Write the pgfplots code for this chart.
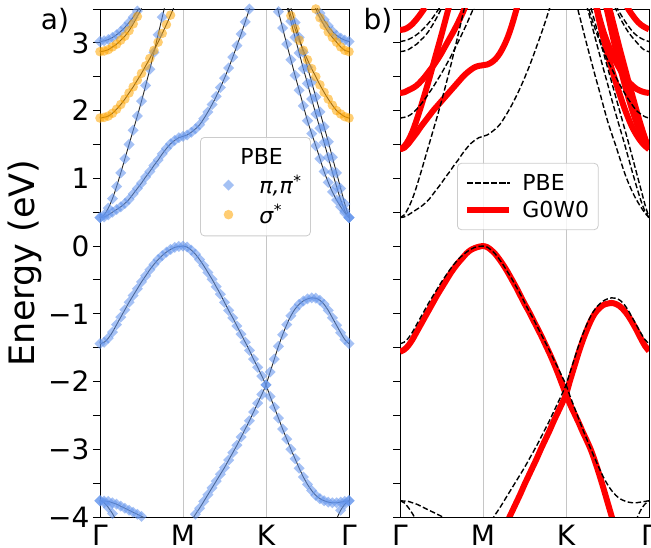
\documentclass[border=0pt]{standalone}
\usepackage{pgfplots}
\pgfplotsset{compat=1.18}
\usepackage{pgfplotstable}
\usepackage{fontspec}
\setmainfont{DejaVu Sans}
\definecolor{cfblue}{RGB}{100,149,237}
\definecolor{mplorange}{RGB}{255,165,0}

% ---------- PBE bands ----------
\pgfplotstableread{
x y
0.00 -1.44
0.05 -1.42
0.10 -1.36
0.15 -1.27
0.20 -1.16
0.25 -1.05
0.30 -0.94
0.35 -0.83
0.40 -0.73
0.45 -0.63
0.50 -0.53
0.55 -0.44
0.60 -0.35
0.65 -0.27
0.70 -0.20
0.75 -0.14
0.80 -0.09
0.85 -0.05
0.90 -0.02
0.95 -0.005
1.00 0.00
1.05 -0.015
1.10 -0.06
1.15 -0.12
1.20 -0.20
1.25 -0.29
1.30 -0.39
1.35 -0.49
1.40 -0.60
1.45 -0.71
1.50 -0.83
1.55 -0.95
1.60 -1.06
1.65 -1.18
1.70 -1.30
1.75 -1.42
1.80 -1.54
1.85 -1.67
1.90 -1.79
1.95 -1.92
2.00 -2.05
2.05 -2.22
2.10 -2.38
2.15 -2.54
2.20 -2.70
2.25 -2.85
2.30 -3.00
2.35 -3.14
2.40 -3.28
2.45 -3.41
2.50 -3.52
2.55 -3.61
2.60 -3.68
2.65 -3.73
2.70 -3.76
2.75 -3.78
2.80 -3.79
2.85 -3.79
2.90 -3.78
2.95 -3.77
3.00 -3.76
}\Xone
\pgfplotstableread{
x y
1.05 -4.16
1.10 -4.06
1.15 -3.96
1.20 -3.87
1.25 -3.77
1.30 -3.67
1.35 -3.57
1.40 -3.47
1.45 -3.37
1.50 -3.27
1.55 -3.16
1.60 -3.05
1.65 -2.94
1.70 -2.82
1.75 -2.70
1.80 -2.58
1.85 -2.45
1.90 -2.32
1.95 -2.19
2.00 -2.05
2.05 -1.86
2.10 -1.67
2.15 -1.48
2.20 -1.31
2.25 -1.16
2.30 -1.03
2.35 -0.93
2.40 -0.86
2.45 -0.81
2.50 -0.78
2.55 -0.765
2.60 -0.77
2.65 -0.80
2.70 -0.86
2.75 -0.95
2.80 -1.06
2.85 -1.17
2.90 -1.28
2.95 -1.38
3.00 -1.44
}\Xtwo
\pgfplotstableread{
x y
0.00 0.42
0.05 0.43
0.10 0.46
0.15 0.50
0.20 0.54
0.25 0.58
0.30 0.63
0.35 0.69
0.40 0.77
0.45 0.85
0.50 0.93
0.55 1.02
0.60 1.10
0.65 1.19
0.70 1.27
0.75 1.36
0.80 1.44
0.85 1.51
0.90 1.56
0.95 1.60
1.00 1.62
1.05 1.64
1.10 1.68
1.15 1.73
1.20 1.79
1.25 1.88
1.30 1.98
1.35 2.09
1.40 2.21
1.45 2.34
1.50 2.48
1.55 2.63
1.60 2.79
1.65 2.96
1.70 3.13
1.75 3.31
1.80 3.50
1.85 3.69
}\Pione
\pgfplotstableread{
x y
0.00 0.42
0.05 0.46
0.10 0.56
0.15 0.70
0.20 0.88
0.25 1.08
0.30 1.29
0.35 1.50
0.40 1.71
0.45 1.92
0.50 2.14
0.55 2.37
0.60 2.61
0.65 2.86
0.70 3.12
0.75 3.38
0.80 3.64
}\Btwo
\pgfplotstableread{
x y
0.00 3.02
0.05 3.03
0.10 3.05
0.15 3.08
0.20 3.12
0.25 3.17
0.30 3.23
0.35 3.30
0.40 3.38
0.45 3.47
0.50 3.56
}\Bthree
\pgfplotstableread{
x y
2.60 3.55
2.65 3.44
2.70 3.34
2.75 3.25
2.80 3.17
2.85 3.11
2.90 3.07
2.95 3.04
3.00 3.02
}\BthreeR
\pgfplotstableread{
x y
2.10 3.72
2.15 3.46
2.20 3.22
2.25 2.98
2.30 2.75
2.35 2.52
2.40 2.30
2.45 2.07
2.50 1.85
2.55 1.66
2.60 1.48
2.65 1.29
2.70 1.10
2.75 0.94
2.80 0.80
2.85 0.68
2.90 0.58
2.95 0.49
3.00 0.42
}\Ao
\pgfplotstableread{
x y
2.20 3.78
2.25 3.55
2.30 3.32
2.35 3.08
2.40 2.85
2.45 2.62
2.50 2.40
2.55 2.17
2.60 1.95
2.65 1.74
2.70 1.53
2.75 1.31
2.80 1.09
2.85 0.88
2.90 0.68
2.95 0.52
3.00 0.42
}\Bo
\pgfplotstableread{
x y
2.25 3.74
2.30 3.52
2.35 3.30
2.40 3.08
2.45 2.86
2.50 2.64
2.55 2.42
2.60 2.20
2.65 1.98
2.70 1.76
2.75 1.54
2.80 1.31
2.85 1.08
2.90 0.85
2.95 0.62
3.00 0.42
}\Co
\pgfplotstableread{
x y
0.00 1.89
0.05 1.90
0.10 1.92
0.15 1.96
0.20 2.02
0.25 2.09
0.30 2.17
0.35 2.26
0.40 2.35
0.45 2.45
0.50 2.55
0.55 2.66
0.60 2.77
0.65 2.89
0.70 3.01
0.75 3.14
0.80 3.27
0.85 3.41
0.90 3.55
}\Oone
\pgfplotstableread{
x y
0.00 2.87
0.05 2.88
0.10 2.90
0.15 2.94
0.20 2.98
0.25 3.04
0.30 3.10
0.35 3.18
0.40 3.28
0.45 3.39
0.50 3.51
}\Otwo
\pgfplotstableread{
x y
2.25 3.60
2.30 3.40
2.35 3.21
2.40 3.04
2.45 2.89
2.50 2.75
2.55 2.62
2.60 2.50
2.65 2.38
2.70 2.27
2.75 2.17
2.80 2.08
2.85 2.00
2.90 1.95
2.95 1.91
3.00 1.89
}\OoneR
\pgfplotstableread{
x y
2.55 3.65
2.60 3.50
2.65 3.37
2.70 3.26
2.75 3.16
2.80 3.08
2.85 3.01
2.90 2.94
2.95 2.89
3.00 2.87
}\OtwoR
\pgfplotstableread{
x y
0.00 -3.76
0.05 -3.765
0.10 -3.77
0.15 -3.79
0.20 -3.81
0.25 -3.84
0.30 -3.87
0.35 -3.90
0.40 -3.93
0.45 -3.96
0.50 -3.99
0.55 -4.02
0.60 -4.05
}\Lone
\pgfplotstableread{
x y
0.00 -3.76
0.05 -3.79
0.10 -3.86
0.15 -3.95
0.20 -4.06
}\Ltwo
\pgfplotstableread{
x y
2.80 -4.17
2.85 -4.03
2.90 -3.90
2.95 -3.81
3.00 -3.76
}\LtwoR

% ---------- G0W0 bands ----------
\pgfplotstableread{
x y
0.00 -1.56
0.05 -1.53
0.10 -1.47
0.15 -1.38
0.20 -1.27
0.25 -1.16
0.30 -1.05
0.35 -0.94
0.40 -0.83
0.45 -0.72
0.50 -0.62
0.55 -0.52
0.60 -0.42
0.65 -0.33
0.70 -0.25
0.75 -0.18
0.80 -0.11
0.85 -0.06
0.90 -0.03
0.95 -0.01
1.00 0.00
1.05 -0.015
1.10 -0.06
1.15 -0.12
1.20 -0.20
1.25 -0.29
1.30 -0.39
1.35 -0.50
1.40 -0.61
1.45 -0.73
1.50 -0.85
1.55 -0.96
1.60 -1.08
1.65 -1.20
1.70 -1.32
1.75 -1.45
1.80 -1.58
1.85 -1.72
1.90 -1.87
1.95 -2.03
2.00 -2.19
2.05 -2.34
2.10 -2.47
2.15 -2.60
2.20 -2.74
2.25 -2.87
2.30 -3.01
2.35 -3.18
2.40 -3.37
2.45 -3.57
2.50 -3.78
2.55 -3.99
2.60 -4.20
}\RVone
\pgfplotstableread{
x y
1.25 -4.19
1.30 -4.05
1.35 -3.92
1.40 -3.79
1.45 -3.66
1.50 -3.52
1.55 -3.39
1.60 -3.26
1.65 -3.13
1.70 -2.99
1.75 -2.86
1.80 -2.73
1.85 -2.59
1.90 -2.46
1.95 -2.33
2.00 -2.19
2.05 -1.98
2.10 -1.78
2.15 -1.58
2.20 -1.40
2.25 -1.24
2.30 -1.10
2.35 -0.99
2.40 -0.92
2.45 -0.87
2.50 -0.85
2.55 -0.84
2.60 -0.855
2.65 -0.89
2.70 -0.95
2.75 -1.03
2.80 -1.13
2.85 -1.24
2.90 -1.36
2.95 -1.47
3.00 -1.55
}\RVtwo
\pgfplotstableread{
x y
0.00 1.43
0.05 1.45
0.10 1.51
0.15 1.59
0.20 1.67
0.25 1.76
0.30 1.84
0.35 1.92
0.40 2.00
0.45 2.07
0.50 2.14
0.55 2.21
0.60 2.28
0.65 2.35
0.70 2.42
0.75 2.49
0.80 2.55
0.85 2.60
0.90 2.64
0.95 2.66
1.00 2.67
1.05 2.68
1.10 2.71
1.15 2.76
1.20 2.84
1.25 2.95
1.30 3.09
1.35 3.27
1.40 3.48
1.45 3.70
}\Rpi
\pgfplotstableread{
x y
0.00 1.43
0.05 1.47
0.10 1.56
0.15 1.69
0.20 1.86
0.25 2.05
0.30 2.25
0.35 2.46
0.40 2.68
0.45 2.90
0.50 3.12
0.55 3.35
0.60 3.58
}\RBtwo
\pgfplotstableread{
x y
0.00 2.26
0.05 2.27
0.10 2.30
0.15 2.33
0.20 2.37
0.25 2.43
0.30 2.50
0.35 2.58
0.40 2.66
0.45 2.75
0.50 2.85
0.55 2.96
0.60 3.07
0.65 3.18
0.70 3.30
0.75 3.43
0.80 3.57
}\ROone
\pgfplotstableread{
x y
0.00 3.19
0.05 3.20
0.10 3.23
0.15 3.28
0.20 3.35
0.25 3.43
0.30 3.52
}\Rtop
\pgfplotstableread{
x y
2.35 3.62
2.40 3.33
2.45 3.07
2.50 2.84
2.55 2.62
2.60 2.42
2.65 2.23
2.70 2.05
2.75 1.89
2.80 1.75
2.85 1.64
2.90 1.55
2.95 1.48
3.00 1.43
}\RA
\pgfplotstableread{
x y
2.45 3.72
2.50 3.45
2.55 3.17
2.60 2.90
2.65 2.65
2.70 2.42
2.75 2.20
2.80 2.00
2.85 1.82
2.90 1.67
2.95 1.53
3.00 1.43
}\RB
\pgfplotstableread{
x y
2.50 3.62
2.55 3.38
2.60 3.14
2.65 2.90
2.70 2.67
2.75 2.44
2.80 2.22
2.85 2.00
2.90 1.79
2.95 1.60
3.00 1.43
}\RC
\pgfplotstableread{
x y
2.35 3.62
2.40 3.38
2.45 3.17
2.50 3.00
2.55 2.85
2.60 2.72
2.65 2.61
2.70 2.51
2.75 2.43
2.80 2.37
2.85 2.32
2.90 2.29
2.95 2.27
3.00 2.26
}\ROoneR
\pgfplotstableread{
x y
2.70 3.62
2.75 3.50
2.80 3.41
2.85 3.33
2.90 3.27
2.95 3.23
3.00 3.20
}\RtopR

\pgfplotsset{
  bluemk/.style={only marks, mark=square*, mark size=3.9pt,
    mark options={rotate=45, draw opacity=0, fill=cfblue, fill opacity=0.58}},
  orgmk/.style={only marks, mark=*, mark size=4.8pt,
    mark options={draw opacity=0, fill=mplorange, fill opacity=0.55}},
  blk/.style={black!85, line width=0.9pt, smooth, no marks},
  dsh/.style={black, line width=1.4pt, dash pattern=on 5.5pt off 2.5pt, smooth, no marks},
  rd/.style={red, line width=6pt, smooth, no marks, line join=round},
  common/.style={
    scale only axis, width=249pt, height=508pt,
    xmin=0, xmax=3, ymin=-4, ymax=3.5,
    xtick={0,1,2,3}, xticklabels={Γ,M,K,Γ},
    xticklabel style={inner ysep=0pt, yshift=-1pt},
    xmajorgrids=true, major x grid style={gray!45, line width=0.8pt},
    ytick={-4,-3,-2,-1,0,1,2,3},
    minor ytick={-3.5,-2.5,-1.5,-0.5,0.5,1.5,2.5,3.5},
    tick align=outside, ytick pos=left,
    major tick length=7pt, minor tick length=7pt,
    every x tick/.style={draw=none},
    every y tick/.style={black, line width=0.9pt},
    minor y tick style={black, line width=0.9pt},
    tick label style={font=\fontsize{28}{30}\selectfont},
    axis line style={black, line width=0.9pt},
    legend cell align=left,
    legend image code/.code={\path[draw=none,fill=none] (0pt,-4pt) rectangle (42pt,4pt);\draw[mark repeat=2,mark phase=2,##1] plot coordinates {(0pt,0pt) (21pt,0pt) (42pt,0pt)};},
    legend style={draw=black!20, line width=0.8pt, rounded corners=4pt,
      fill=white, fill opacity=0.8, draw opacity=1, text opacity=1,
      font=\fontsize{22}{26}\selectfont, inner xsep=7pt, inner ysep=9pt,
      row sep=5pt, /tikz/every odd column/.append style={column sep=8pt}},
  },
}

\begin{document}
\begin{tikzpicture}
\useasboundingbox (0pt,0pt) rectangle (651pt,548pt);
\begin{axis}[common, name=a1, at={(100pt,31pt)}, anchor=south west,
  yticklabels={−4,−3,−2,−1,0,1,2,3},
  ylabel={Energy (eV)}, ylabel style={font=\fontsize{35}{40}\selectfont},
  legend style={at={(rel axis cs:0.402,0.748)}, anchor=north west}]
\addlegendimage{empty legend}\addlegendentry{\hspace*{-19pt}PBE}
\addlegendimage{only marks, mark=square*, mark size=3.9pt, mark options={rotate=45, draw opacity=0, fill=cfblue, fill opacity=0.58}}
\addlegendentry{\textit{π,π}\textsuperscript{*}}
\addlegendimage{only marks, mark=*, mark size=4.8pt, mark options={draw opacity=0, fill=mplorange, fill opacity=0.55}}
\addlegendentry{\textit{σ}\textsuperscript{*}}
% markers
\addplot[bluemk, forget plot] table {\Xone};
\addplot[bluemk, forget plot] table {\Xtwo};
\addplot[bluemk, forget plot] table {\Pione};
\addplot[bluemk, forget plot] table {\Btwo};
\addplot[bluemk, forget plot] table {\Bthree};
\addplot[bluemk, forget plot] table {\BthreeR};
\addplot[bluemk, forget plot] table {\Ao};
\addplot[bluemk, forget plot] table {\Bo};
\addplot[bluemk, forget plot] table {\Co};
\addplot[bluemk, forget plot] table {\Lone};
\addplot[bluemk, forget plot] table {\Ltwo};
\addplot[bluemk, forget plot] table {\LtwoR};
\addplot[orgmk, forget plot] table {\Oone};
\addplot[orgmk, forget plot] table {\Otwo};
\addplot[orgmk, forget plot] table {\OoneR};
\addplot[orgmk, forget plot] table {\OtwoR};
% lines
\addplot[blk, forget plot] table {\Xone};
\addplot[blk, forget plot] table {\Xtwo};
\addplot[blk, forget plot] table {\Pione};
\addplot[blk, forget plot] table {\Btwo};
\addplot[blk, forget plot] table {\Bthree};
\addplot[blk, forget plot] table {\BthreeR};
\addplot[blk, forget plot] table {\Ao};
\addplot[blk, forget plot] table {\Bo};
\addplot[blk, forget plot] table {\Co};
\addplot[blk, forget plot] table {\Lone};
\addplot[blk, forget plot] table {\Ltwo};
\addplot[blk, forget plot] table {\LtwoR};
\addplot[blk, forget plot] table {\Oone};
\addplot[blk, forget plot] table {\Otwo};
\addplot[blk, forget plot] table {\OoneR};
\addplot[blk, forget plot] table {\OtwoR};
\end{axis}

\begin{axis}[common, name=a2, at={(400pt,31pt)}, anchor=south west,
  yticklabels={,,,,,,,},
  legend style={at={(rel axis cs:0.229,0.697)}, anchor=north west}]
\addlegendimage{dsh}\addlegendentry{PBE}
\addlegendimage{red, line width=6pt}\addlegendentry{G0W0}
% G0W0
\addplot[rd, forget plot] table {\RVone};
\addplot[rd, forget plot] table {\RVtwo};
\addplot[rd, forget plot] table {\Rpi};
\addplot[rd, forget plot] table {\RBtwo};
\addplot[rd, forget plot] table {\ROone};
\addplot[rd, forget plot] table {\Rtop};
\addplot[rd, forget plot] table {\RA};
\addplot[rd, forget plot] table {\RB};
\addplot[rd, forget plot] table {\RC};
\addplot[rd, forget plot] table {\ROoneR};
\addplot[rd, forget plot] table {\RtopR};
% PBE
\addplot[dsh, forget plot] table {\Xone};
\addplot[dsh, forget plot] table {\Xtwo};
\addplot[dsh, forget plot] table {\Pione};
\addplot[dsh, forget plot] table {\Btwo};
\addplot[dsh, forget plot] table {\Bthree};
\addplot[dsh, forget plot] table {\BthreeR};
\addplot[dsh, forget plot] table {\Ao};
\addplot[dsh, forget plot] table {\Bo};
\addplot[dsh, forget plot] table {\Co};
\addplot[dsh, forget plot] table {\Lone};
\addplot[dsh, forget plot] table {\Ltwo};
\addplot[dsh, forget plot] table {\LtwoR};
\addplot[dsh, forget plot] table {\Oone};
\addplot[dsh, forget plot] table {\Otwo};
\addplot[dsh, forget plot] table {\OoneR};
\addplot[dsh, forget plot] table {\OtwoR};
\end{axis}

\node[font=\fontsize{28}{30}\selectfont] at ([xshift=-45pt,yshift=-12pt]a1.north west) {a)};
\node[font=\fontsize{28}{30}\selectfont] at ([xshift=-22pt,yshift=-12pt]a2.north west) {b)};
\end{tikzpicture}
\end{document}
